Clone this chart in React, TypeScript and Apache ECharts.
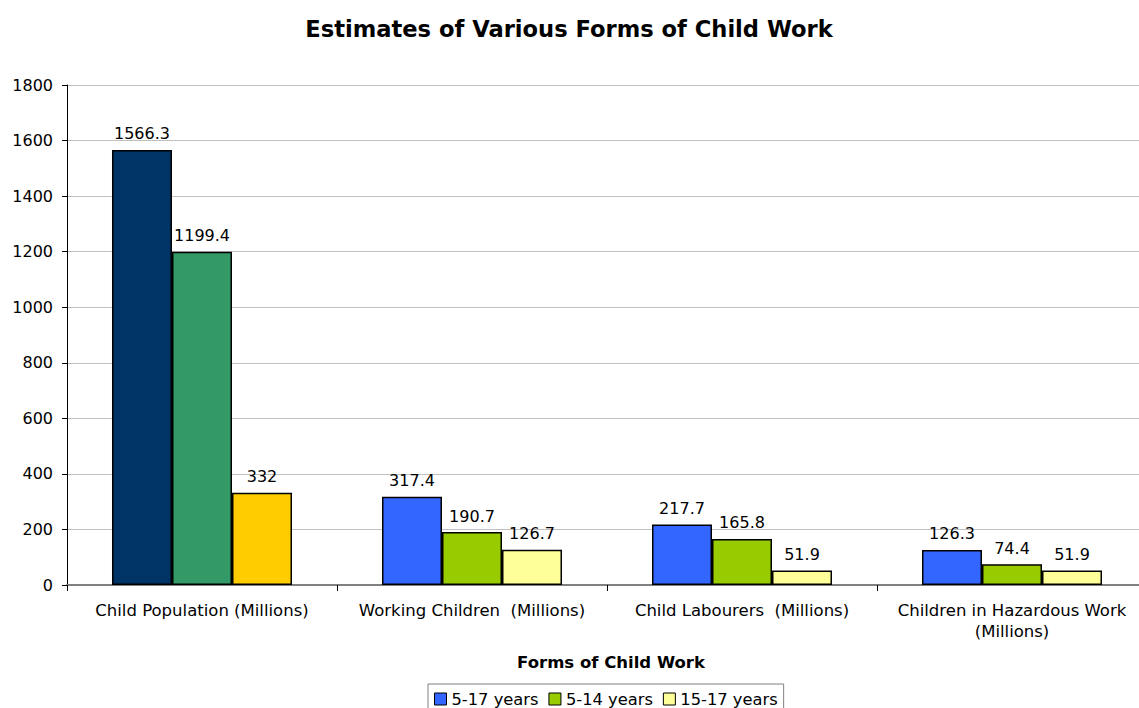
import React, { useEffect, useRef } from "react";
import * as echarts from "echarts";

const categories = [
  "Child Population (Millions)",
  "Working Children  (Millions)",
  "Child Labourers  (Millions)",
  "Children in Hazardous Work\n(Millions)",
];
const seriesNames = ["5-17 years", "5-14 years", "15-17 years"];
const age5to17 = [1566.3, 317.4, 217.7, 126.3];
const age5to14 = [1199.4, 190.7, 165.8, 74.4];
const age15to17 = [332, 126.7, 51.9, 51.9];
const yTicks = { min: 0, max: 1800, interval: 200 };

const seriesColors = ["#3366FF", "#99CC00", "#FFFF99"];
// the population group is drawn in its own palette
const populationColors = ["#003366", "#339966", "#FFCC00"];

const FONT = "DejaVu Sans, Verdana, sans-serif";

export default function App() {
  const ref = useRef<HTMLDivElement>(null);

  useEffect(() => {
    if (!ref.current) return;
    const chart = echarts.init(ref.current, undefined, { renderer: "svg" });
    const values = [age5to17, age5to14, age15to17];

    chart.setOption({
      animation: false,
      textStyle: { fontFamily: FONT },
      title: [
        {
          text: "Estimates of Various Forms of Child Work",
          left: 564,
          textAlign: "center",
          top: 12,
          textStyle: { fontFamily: FONT, fontSize: 22.6, fontWeight: "bold", color: "#000" },
        },
        {
          text: "Forms of Child Work",
          left: 606,
          textAlign: "center",
          top: 649,
          textStyle: { fontFamily: FONT, fontSize: 16.5, fontWeight: "bold", color: "#000" },
        },
      ],
      legend: {
        left: 428,
        top: 684,
        padding: [7, 6, 7, 6],
        itemGap: 10,
        itemWidth: 12,
        itemHeight: 12,
        icon: "rect",
        borderColor: "#808080",
        borderWidth: 1,
        itemStyle: { borderColor: "#000", borderWidth: 1 },
        textStyle: { fontFamily: FONT, fontSize: 16.3, color: "#000" },
        data: seriesNames,
      },
      grid: { left: 67, top: 85, right: 0, height: 500, containLabel: false },
      xAxis: {
        type: "category",
        data: categories,
        axisLine: { lineStyle: { color: "#808080", width: 2 } },
        axisTick: { show: true, length: 6, lineStyle: { color: "#000" } },
        axisLabel: { fontFamily: FONT, fontSize: 16.5, color: "#000", margin: 15, lineHeight: 21, interval: 0 },
      },
      yAxis: {
        type: "value",
        min: yTicks.min,
        max: yTicks.max,
        interval: yTicks.interval,
        axisLine: { show: true, lineStyle: { color: "#000", width: 1 } },
        axisTick: { show: true, length: 5, lineStyle: { color: "#000" } },
        axisLabel: {
          fontFamily: FONT,
          fontSize: 16,
          color: "#000",
          margin: 14,
          formatter: (v: number) => String(v),
        },
        splitLine: { lineStyle: { color: "#c0c0c0", width: 1 } },
      },
      series: seriesNames.map((name, s) => ({
        name,
        type: "bar",
        barGap: "0%",
        barCategoryGap: "33.33%",
        itemStyle: { color: seriesColors[s], borderColor: "#000", borderWidth: 1.5 },
        label: {
          show: true,
          position: "top",
          distance: 8,
          fontFamily: FONT,
          fontSize: 16,
          color: "#000",
        },
        data: values[s].map((v, i) =>
          i === 0 ? { value: v, itemStyle: { color: populationColors[s] } } : v
        ),
      })),
    });

    return () => chart.dispose();
  }, []);

  // the plot runs a few pixels past the right edge of the window
  return (
    <div
      ref={ref}
      style={{ position: "fixed", left: 0, top: 0, width: 1147, height: 708, background: "#fff" }}
    />
  );
}
